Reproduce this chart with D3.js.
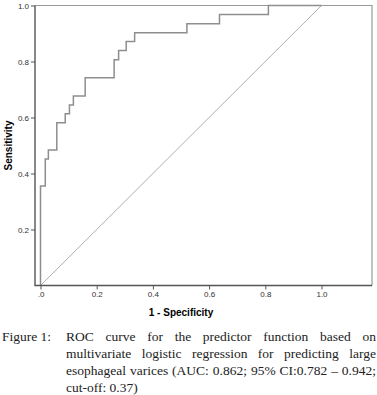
<!DOCTYPE html>
<html lang="en">
<head>
<meta charset="UTF-8">
<title>ROC curve</title>
<script src="https://d3js.org/d3.v7.min.js"></script>
<style>
  body { margin: 0; background: #fff; }
  #wrap { position: relative; width: 377px; height: 395px; overflow: hidden; }
  .caption { position: absolute; font-family: "Liberation Serif", "Times New Roman", serif;
             font-size: 13.5px; color: #222; line-height: 17px; }
  .caption .line { text-align: justify; text-align-last: justify; white-space: nowrap; }
  .caption .line.last { text-align-last: left; }
</style>
</head>
<body>
<div id="wrap">
  <div id="chart"></div>
</div>
<script>
// ROC points (1 - specificity, sensitivity), drawn as a step curve
const fpr = [0, 0, 0.017, 0.028, 0.058, 0.088, 0.103, 0.117, 0.159, 0.262, 0.278, 0.305, 0.335, 0.521, 0.637, 0.811, 1];
const tpr = [0, 0.355, 0.452, 0.484, 0.581, 0.613, 0.645, 0.677, 0.742, 0.806, 0.839, 0.871, 0.903, 0.935, 0.968, 1, 1];
const refLine = [[0, 0], [1, 1]];

const xTicks = [0, 0.2, 0.4, 0.6, 0.8, 1.0];
const yTicks = [0.2, 0.4, 0.6, 0.8, 1.0];

const xTitle = "1 - Specificity";
const yTitle = "Sensitivity";
const figLabel = "Figure 1:";
const captionLines = [
  "ROC curve for the predictor function based on",
  "multivariate logistic regression for predicting large",
  "esophageal varices (AUC: 0.862; 95% CI:0.782 \u2013 0.942;",
  "cut-off: 0.37)"
];

const W = 377, H = 395;
const frame = { left: 35, right: 372, top: 5.5, bottom: 285.5 };

const x = d3.scaleLinear().domain([0, 1]).range([40.5, 321.5]);
const y = d3.scaleLinear().domain([0, 1]).range([285.5, 5.5]);

const svg = d3.select("#chart").append("svg")
  .attr("width", W).attr("height", H)
  .style("position", "absolute").style("left", 0).style("top", 0);

// light top/right border
svg.append("path")
  .attr("d", `M${frame.left},${frame.top}H${frame.right}V${frame.bottom}`)
  .attr("fill", "none").attr("stroke", "#9a9a9a").attr("stroke-width", 1.2);

// diagonal reference
svg.append("path")
  .datum(refLine)
  .attr("fill", "none")
  .attr("stroke", "#b0b0b0")
  .attr("stroke-width", 1)
  .attr("d", d3.line().x(d => x(d[0])).y(d => y(d[1])));

// ROC curve
const pts = fpr.map((f, i) => [f, tpr[i]]);
svg.append("path")
  .datum(pts)
  .attr("fill", "none")
  .attr("stroke", "#8e8e8e")
  .attr("stroke-width", 1.5)
  .attr("d", d3.line().curve(d3.curveStepAfter).x(d => x(d[0])).y(d => y(d[1])));

// axes
const yAxis = svg.append("g")
  .attr("transform", `translate(${frame.left},0)`)
  .call(d3.axisLeft(y).tickValues(yTicks).tickSize(4).tickPadding(2).tickFormat(d3.format(".1f")));
const xAxis = svg.append("g")
  .attr("transform", `translate(0,${frame.bottom})`)
  .call(d3.axisBottom(x).tickValues(xTicks).tickSize(4).tickPadding(2)
    .tickFormat(d => d === 0 ? ".0" : d3.format(".1f")(d)));

[xAxis, yAxis].forEach(a => {
  a.select(".domain").remove();
  a.selectAll("line").attr("stroke", "#555");
  a.selectAll("text").attr("fill", "#333")
    .style("font-family", "'Liberation Sans', Arial, sans-serif").style("font-size", "8px");
});

// dark left / bottom axis lines
svg.append("path")
  .attr("d", `M${frame.left},${frame.top}V${frame.bottom}H${frame.right}`)
  .attr("fill", "none").attr("stroke", "#555").attr("stroke-width", 1.4);

// axis titles
svg.append("text")
  .attr("x", (x(0) + x(1)) / 2).attr("y", 316)
  .attr("text-anchor", "middle")
  .style("font-family", "'Liberation Sans', Arial, sans-serif")
  .style("font-size", "10px").style("font-weight", "bold")
  .text(xTitle);

svg.append("text")
  .attr("transform", `translate(12,${(y(0) + y(1)) / 2}) rotate(-90)`)
  .attr("text-anchor", "middle")
  .style("font-family", "'Liberation Sans', Arial, sans-serif")
  .style("font-size", "10px").style("font-weight", "bold")
  .text(yTitle);

// caption
const wrap = d3.select("#wrap");
wrap.append("div").attr("class", "caption")
  .style("left", "2px").style("top", "328px")
  .text(figLabel);
const capWidth = 310;
const cap = wrap.append("div").attr("class", "caption")
  .style("left", "66px").style("top", "328px").style("width", capWidth + "px");
cap.selectAll("div").data(captionLines).join("div")
  .attr("class", (d, i) => i === captionLines.length - 1 ? "line last" : "line")
  .text(d => d)
  .each(function () {
    // squeeze a line that is too long for the column
    const over = this.scrollWidth - capWidth;
    if (over > 0) d3.select(this).style("letter-spacing", (-over / this.textContent.length) + "px");
  });
</script>
</body>
</html>
